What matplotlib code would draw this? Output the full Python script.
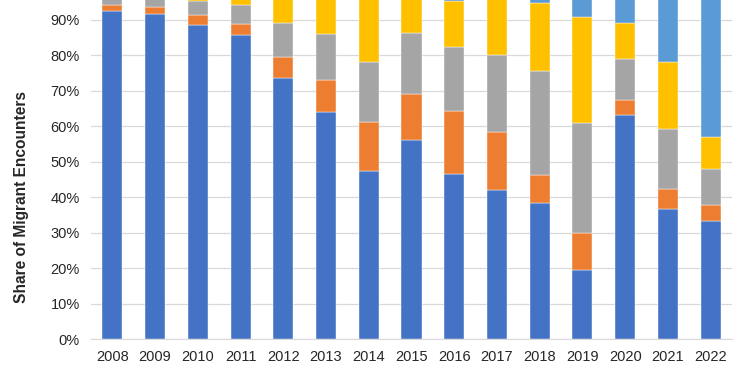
import matplotlib.pyplot as plt
from matplotlib.ticker import PercentFormatter

plt.rcParams['font.family'] = ['Liberation Sans', 'DejaVu Sans']

years = ["2008", "2009", "2010", "2011", "2012", "2013", "2014", "2015",
         "2016", "2017", "2018", "2019", "2020", "2021", "2022"]

# shares in percent (bottom to top)
series_a = [92.6, 91.6, 88.6, 85.7, 73.5, 64.1, 47.3, 56.2, 46.7, 42.1, 38.4, 19.5, 63.2, 36.6, 33.4]
series_b = [1.7, 2.1, 2.9, 3.2, 6.1, 8.9, 13.9, 13.0, 17.6, 16.3, 7.9, 10.5, 4.1, 5.8, 4.3]
series_c = [5.7, 6.3, 3.8, 5.3, 9.6, 13.0, 16.8, 17.1, 18.1, 21.7, 29.2, 31.0, 11.7, 16.9, 10.3]
series_d = [0.0, 0.0, 3.9, 5.3, 10.3, 13.5, 21.5, 13.2, 12.9, 19.4, 19.3, 29.9, 10.1, 18.7, 9.1]
series_e = [100 - a - b - c - d for a, b, c, d in zip(series_a, series_b, series_c, series_d)]

colors = ["#4472C4", "#ED7D31", "#A5A5A5", "#FFC000", "#5B9BD5"]

fig = plt.figure(figsize=(7.5, 3.75), dpi=100)
ax = fig.add_axes([91 / 750, 1 - 339.3 / 375, (732 - 91) / 750, 339.3 / 375])

x = range(len(years))
bottom = [0.0] * len(years)
for vals, col in zip([series_a, series_b, series_c, series_d, series_e], colors):
    ax.bar(x, vals, width=0.47, bottom=bottom, color=col, edgecolor="#ffffff",
           linewidth=0.3, zorder=3)
    bottom = [b + v for b, v in zip(bottom, vals)]

ax.set_xlim(-0.5, len(years) - 0.5)
ax.set_ylim(0, 95.6)
ax.set_yticks(range(0, 100, 10))
ax.yaxis.set_major_formatter(PercentFormatter(decimals=0))
ax.set_xticks(list(x))
ax.set_xticklabels(years)
ax.grid(axis="y", color="#D9D9D9", linewidth=0.9, zorder=0)
ax.tick_params(axis="both", length=0, labelsize=10.5, colors="#262626")
ax.tick_params(axis="x", pad=8)
ax.tick_params(axis="y", pad=8)
for s in ["top", "right", "left"]:
    ax.spines[s].set_visible(False)
ax.spines["bottom"].set_color("#D9D9D9")

ax.set_ylabel("Share of Migrant Encounters", fontsize=11.2, fontweight="bold",
              color="#262626")
ax.yaxis.set_label_coords(-0.097, 0.42)

fig.savefig("out.png", dpi=100)
